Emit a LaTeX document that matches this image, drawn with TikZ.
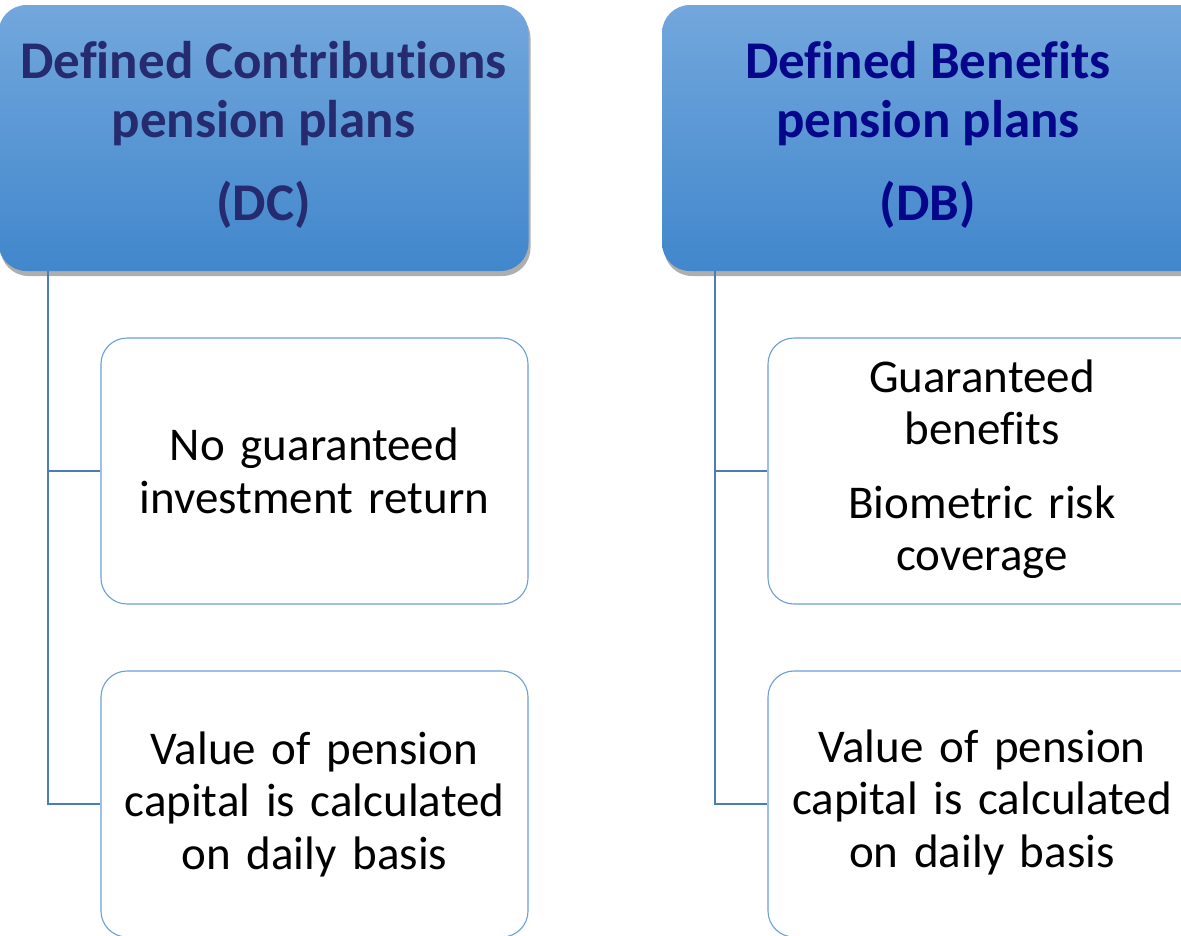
\documentclass[tikz,border=0pt]{standalone}
\usepackage{fontspec}
\setmainfont[RawFeature=-liga]{Carlito}
\usetikzlibrary{shadows}
\definecolor{hdtop}{HTML}{72A7DC}
\definecolor{hdbot}{HTML}{4187CC}
\definecolor{boxline}{HTML}{6A9FD8}
\definecolor{conline}{HTML}{4A7DB8}
\definecolor{dctext}{HTML}{262A6E}
\definecolor{dbtext}{HTML}{06068A}
\tikzset{
  header/.style={rounded corners=28pt, top color=hdtop, bottom color=hdbot, draw=none,
    minimum width=530pt, minimum height=266pt, align=center,
    font=\fontsize{53}{59}\selectfont\bfseries,
    drop shadow={shadow xshift=2pt, shadow yshift=-5pt, opacity=0.45, fill=black!70}},
  child/.style={draw=boxline, line width=1.1pt, rounded corners=26pt, fill=white,
    minimum width=427pt, minimum height=266pt, align=center, text width=420pt,
    font=\fontsize{47}{52.5}\selectfont},
  conn/.style={draw=conline, line width=2.8pt}
}
\begin{document}
\begin{tikzpicture}[x=1pt,y=-1pt]
\useasboundingbox (0,0) rectangle (1181,935);
\clip (0,0) rectangle (1181,935);
\fill[white] (0,0) rectangle (1181,935);
% headers
\node[header, text=dctext] (dc) at (263.5,138) {\raisebox{-3pt}{\begin{tabular}{c}Defined Contributions\\pension plans\\[24pt](DC)\end{tabular}}};
\node[header, text=dbtext, minimum width=560pt] (db) at (942,138) {\hspace*{-28pt}\raisebox{-3pt}{\begin{tabular}{c}Defined Benefits\\pension plans\\[24pt](DB)\end{tabular}}};
% children
\node[child] (dc1) at (314.5,471) {No guaranteed\\investment return};
\node[child] (dc2) at (314.5,804) {Value of pension\\capital is calculated\\on daily basis};
\node[child, minimum width=440pt] (db1) at (988,471) {\hspace*{-12pt}\begin{tabular}{c}Guaranteed\\benefits\\[21pt]Biometric risk\\coverage\end{tabular}};
\node[child, minimum width=440pt] (db2) at (988,804) {\hspace*{-12pt}\begin{tabular}{c}Value of pension\\capital is calculated\\on daily basis\end{tabular}};
% connectors
\coordinate (dcroot) at (48,271);
\coordinate (dbroot) at (715,271);
\draw[conn] (dcroot) |- (dc1.west);
\draw[conn] (dcroot) |- (dc2.west);
\draw[conn] (dbroot) |- (db1.west);
\draw[conn] (dbroot) |- (db2.west);
\end{tikzpicture}
\end{document}
